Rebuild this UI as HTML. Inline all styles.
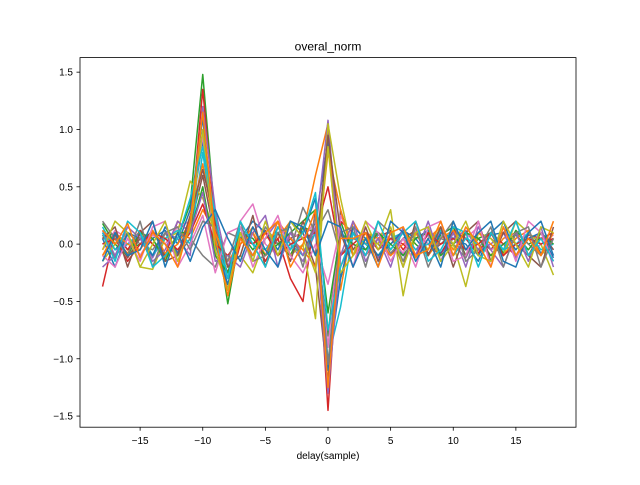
<!DOCTYPE html>
<html><head><meta charset="utf-8"><style>
body{margin:0;background:#fff;font-family:"Liberation Sans","DejaVu Sans",sans-serif}
</style></head><body>
<svg id="chart" width="640" height="480" xmlns="http://www.w3.org/2000/svg"></svg>
<script>
const delays=[];for(let d=-18;d<=18;d++)delays.push(d);
const xTicks=[-15,-10,-5,0,5,10,15];
const yTicks=[-1.5,-1.0,-0.5,0.0,0.5,1.0,1.5];
const yTickLabels=["−1.5","−1.0","−0.5","0.0","0.5","1.0","1.5"];
const colors=["#1f77b4","#ff7f0e","#2ca02c","#d62728","#9467bd","#8c564b","#e377c2","#7f7f7f","#bcbd22","#17becf"];
const s1=[0.1,-0.05,0.08,-0.1,0.05,0.12,-0.08,0.2,0.9,0.1,-0.3,0.05,0.1,-0.1,0.15,0.05,-0.1,0.2,0.9,-0.3,0.1,-0.05,0.08,0.1,-0.1,0.05,0.12,-0.08,0.1,0.05,-0.1,0.08,0.1,-0.05,0.1,-0.08,0.05];
const s2=[-0.1,0.05,-0.08,0.1,0.0,-0.12,0.1,0.05,0.3,0.1,-0.2,0.0,0.15,-0.1,0.05,0.2,0.1,0.6,1.05,-0.4,0.2,0.0,-0.1,0.05,0.1,-0.12,0.05,0.15,-0.05,0.1,0.0,-0.1,0.05,0.1,-0.1,0.05,0.0];
const s3=[0.05,0.1,-0.05,0.0,0.12,-0.1,0.05,0.35,1.48,0.2,-0.52,0.1,-0.05,0.1,0.0,-0.1,0.15,0.1,-0.8,0.2,-0.1,0.05,0.1,-0.05,0.12,0.0,-0.1,0.08,0.15,-0.1,0.05,0.1,-0.08,0.12,0.0,0.05,0.1];
const s4=[-0.37,0.1,-0.05,0.12,0.0,-0.1,0.2,0.1,1.35,0.15,-0.4,0.0,0.1,-0.15,0.05,-0.3,-0.5,0.3,-1.45,0.2,0.1,-0.1,0.05,0.12,-0.05,0.1,0.0,-0.1,0.12,0.05,-0.08,0.1,0.0,-0.1,0.08,0.05,0.1];
const s5=[0.12,-0.1,0.0,0.08,-0.12,0.1,0.05,-0.1,1.2,0.3,-0.2,0.1,-0.1,0.05,0.2,0.0,-0.15,0.1,1.08,-0.2,0.05,0.1,-0.12,0.0,0.1,-0.05,0.08,-0.1,0.05,0.12,-0.05,0.0,0.1,-0.12,0.05,0.1,-0.05];
const s6=[0.0,0.08,-0.12,0.05,0.1,0.0,-0.1,0.15,0.6,0.05,-0.25,0.1,0.0,0.12,-0.1,0.05,0.1,-0.2,-1.2,0.3,-0.05,0.1,0.0,-0.1,0.05,0.12,-0.08,0.0,0.1,-0.1,0.05,-0.05,0.1,0.0,-0.1,0.1,-0.05];
const s7=[-0.05,0.12,0.05,-0.1,0.08,0.0,0.15,0.2,0.95,-0.1,-0.3,0.2,0.35,0.0,-0.1,0.1,0.05,0.2,-0.9,0.25,0.0,-0.1,0.1,0.05,-0.08,0.12,0.0,0.1,-0.1,0.05,0.15,-0.05,0.0,0.1,-0.1,0.0,0.08];
const s8=[0.08,-0.12,0.1,0.0,-0.05,0.1,-0.1,0.05,-0.1,-0.2,0.1,0.05,-0.1,0.15,0.0,-0.05,0.32,0.1,0.3,-0.1,0.05,0.0,0.1,-0.08,0.05,-0.1,0.1,0.05,0.0,-0.12,0.1,0.05,-0.05,0.1,0.0,-0.1,0.05];
const s9=[-0.15,0.0,0.1,-0.2,-0.22,0.05,0.1,0.55,0.4,0.1,-0.2,-0.1,-0.25,0.05,0.1,-0.1,0.0,-0.65,1.05,0.4,-0.1,0.05,0.0,0.3,-0.45,0.1,-0.05,0.15,0.0,-0.37,0.1,0.05,-0.1,0.2,0.1,0.0,-0.27];
const s10=[0.15,-0.05,0.0,0.1,-0.1,0.05,0.12,0.0,0.8,0.05,-0.3,0.15,0.0,-0.05,0.1,0.0,-0.1,0.1,-1.0,-0.55,0.1,0.0,-0.1,0.05,0.1,-0.05,0.0,0.12,-0.1,0.05,0.0,0.1,-0.05,0.0,0.1,-0.05,0.0];
const s11=[0.05,-0.2,0.1,0.05,-0.1,0.15,0.0,0.3,1.1,0.0,-0.35,0.05,0.2,0.1,-0.05,0.2,0.1,0.4,-1.1,-0.3,0.15,0.05,-0.1,0.0,0.12,0.05,-0.1,0.1,0.05,0.0,-0.15,0.1,0.2,-0.1,0.05,0.1,-0.12];
const s12=[-0.1,0.1,0.0,-0.05,0.12,-0.08,0.0,0.2,0.7,0.1,-0.15,0.0,0.1,-0.1,0.2,0.05,-0.05,-0.2,0.8,0.3,-0.1,0.1,0.05,-0.1,0.0,0.1,-0.1,0.05,0.12,-0.05,0.1,0.0,-0.1,0.05,0.12,-0.1,0.1];
const s13=[0.18,0.0,-0.1,0.1,0.05,-0.15,0.1,0.1,0.5,-0.1,-0.25,0.1,0.05,-0.1,0.0,0.1,0.2,0.3,-0.6,0.1,0.0,-0.05,0.1,0.0,-0.1,0.05,0.1,-0.1,0.0,0.1,0.05,-0.1,0.0,0.08,-0.05,0.1,0.0];
const s14=[0.0,0.05,-0.15,0.0,0.1,0.05,-0.05,0.1,0.35,0.0,-0.1,0.05,0.0,0.1,-0.1,0.0,0.05,0.1,0.5,-0.1,0.0,0.1,-0.05,0.05,0.0,-0.1,0.1,0.0,0.05,-0.05,0.0,0.1,-0.1,0.0,0.05,0.0,0.05];
const s15=[-0.2,-0.1,0.15,0.05,-0.15,-0.05,0.2,0.1,0.45,-0.15,-0.1,-0.2,0.1,0.25,-0.2,0.1,-0.1,0.15,-1.3,-0.1,0.2,-0.15,0.05,-0.2,0.15,-0.1,0.2,-0.15,0.1,-0.2,0.15,-0.05,-0.2,0.1,-0.15,0.15,-0.2];
const s16=[0.05,0.15,-0.2,0.1,0.2,-0.15,-0.1,0.25,0.65,0.2,-0.2,-0.1,0.25,-0.2,0.1,-0.15,0.2,-0.1,0.95,0.1,-0.2,0.15,-0.15,0.1,-0.2,0.2,-0.1,0.15,-0.2,0.1,0.2,-0.15,0.1,0.2,-0.1,-0.2,0.15];
const s17=[-0.1,-0.2,0.05,-0.15,0.15,0.2,-0.2,0.0,0.25,-0.25,0.1,0.15,-0.2,0.05,0.25,-0.1,-0.25,0.0,-0.35,0.15,-0.2,0.2,0.1,-0.15,0.05,-0.2,0.15,0.2,-0.15,-0.1,0.2,-0.2,0.15,-0.15,0.2,0.1,-0.15];
const s18=[0.2,0.05,-0.1,0.2,-0.2,0.1,0.15,-0.05,0.2,0.15,-0.15,0.2,-0.15,-0.1,0.1,0.15,-0.2,0.25,-1.05,0.1,0.15,-0.2,0.2,0.1,-0.15,0.15,-0.2,0.05,0.2,-0.15,-0.05,0.15,-0.2,0.1,0.15,-0.2,0.05];
const s19=[-0.05,0.2,0.1,-0.2,0.0,0.2,-0.15,0.15,1.0,-0.05,-0.4,0.1,-0.15,0.2,-0.1,0.2,0.05,-0.25,0.85,-0.25,-0.1,0.2,-0.05,0.15,-0.2,0.1,0.15,-0.15,0.0,0.2,-0.1,-0.15,0.2,0.0,-0.2,0.15,0.1];
const s20=[0.1,-0.15,0.2,0.1,-0.2,-0.1,0.05,0.4,0.85,0.25,-0.3,0.2,0.0,-0.2,0.15,-0.05,0.1,0.45,-0.75,-0.2,0.1,-0.1,0.2,-0.05,0.1,0.2,-0.15,-0.05,0.15,0.1,-0.2,0.1,-0.05,0.2,-0.1,0.05,-0.15];
const s21=[-0.15,0.1,-0.1,-0.05,0.2,-0.2,0.1,-0.15,0.15,0.3,0.05,-0.15,0.15,-0.05,-0.2,0.2,0.15,-0.1,0.2,0.15,-0.2,0.05,-0.2,0.2,0.1,-0.15,0.05,-0.2,0.2,-0.05,0.1,0.2,-0.15,-0.2,0.1,0.2,-0.1];
const s22=[0.12,0.0,0.18,-0.12,0.1,0.0,-0.2,0.2,1.15,0.05,-0.45,0.05,-0.1,0.1,0.2,-0.2,0.0,0.3,-1.25,0.05,0.05,0.1,-0.2,0.1,0.15,-0.1,-0.05,0.2,-0.1,0.15,0.0,-0.2,0.15,-0.1,0.05,-0.1,0.2];
const series=[s1,s2,s3,s4,s5,s6,s7,s8,s9,s10,s11,s12,s13,s14,s15,s16,s17,s18,s19,s20,s21,s22];
const L=80,R=576,T=57.6,B=427.2,xmin=-19.8,xmax=19.8,ymin=-1.597,ymax=1.627;
const xs=v=>L+(v-xmin)/(xmax-xmin)*(R-L);
const ys=v=>B-(v-ymin)/(ymax-ymin)*(B-T);
const svg=document.getElementById('chart');const NS="http://www.w3.org/2000/svg";
function mk(tag,attrs,parent){const e=document.createElementNS(NS,tag);for(const k in attrs)e.setAttribute(k,attrs[k]);(parent||svg).appendChild(e);return e;}
const g=mk('g',{});


series.forEach((s,i)=>{
 const p=mk('polyline',{points:s.map((v,j)=>xs(delays[j])+','+ys(v)).join(' '),fill:'none',stroke:colors[i%10],'stroke-width':1.5,'stroke-linejoin':'round'},g);
 
 
});
const frame=mk('rect',{x:L,y:T,width:R-L,height:B-T,fill:'none',stroke:'#000','stroke-width':0.8});


xTicks.forEach(t=>{
 mk('line',{x1:xs(t),x2:xs(t),y1:B,y2:B+3.5,stroke:'#000','stroke-width':0.8});
 const tx=mk('text',{x:xs(t),y:B+17,'font-size':10,'text-anchor':'middle'});
 tx.textContent=t<0?'−'+(-t):String(t);
 
 
});
yTicks.forEach((t,i)=>{
 mk('line',{x1:L-3.5,x2:L,y1:ys(t),y2:ys(t),stroke:'#000','stroke-width':0.8});
 const tx=mk('text',{x:L-7,y:ys(t)+3.5,'font-size':10,'text-anchor':'end'});
 tx.textContent=yTickLabels[i];
 
 
});
const title=mk('text',{x:(L+R)/2,y:T-7,'font-size':12,'text-anchor':'middle'});
title.textContent='overal_norm';


const xl=mk('text',{x:(L+R)/2,y:B+32,'font-size':10,'text-anchor':'middle'});
xl.textContent='delay(sample)';


</script>
</body></html>
